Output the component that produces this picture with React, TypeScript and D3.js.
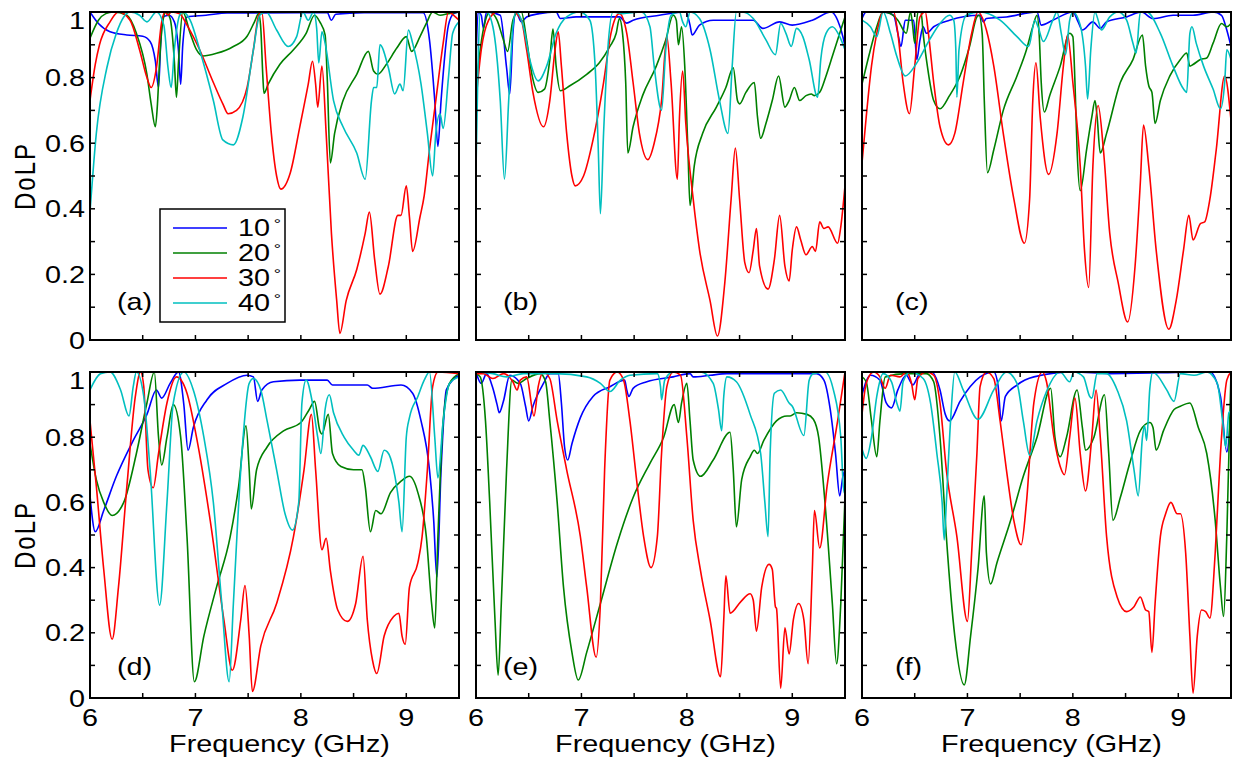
import React, { useEffect, useRef } from 'react'
import * as d3 from 'd3'

type Pt = [number, number]

// panel (a)
const a10: Pt[] = [[6.0,1.0],[6.08,0.965],[6.19,0.94],[6.35,0.93],[6.5,0.926],[6.57,0.91],[6.62,0.85],[6.65,0.77],[6.67,0.9],[6.69,0.985],[6.75,0.99],[6.8,0.97],[6.84,0.88],[6.86,0.78],[6.88,0.9],[6.92,0.985],[7.1,0.99],[7.3,0.997],[8.0,0.998],[8.25,0.998],[8.29,0.975],[8.33,0.993],[8.6,0.998],[9.16,0.998],[9.22,0.915],[9.27,0.73],[9.3,0.59],[9.33,0.73],[9.4,0.96],[9.45,0.995],[9.5,1.0]]
const a20: Pt[] = [[6.0,0.92],[6.08,0.975],[6.15,0.995],[6.22,1.0],[6.35,0.99],[6.44,0.935],[6.54,0.81],[6.58,0.72],[6.62,0.65],[6.64,0.72],[6.66,0.85],[6.69,0.97],[6.72,1.0],[6.76,0.98],[6.8,0.85],[6.82,0.74],[6.84,0.85],[6.88,1.0],[6.95,0.935],[7.01,0.885],[7.07,0.866],[7.2,0.874],[7.36,0.895],[7.49,0.926],[7.56,0.97],[7.6,0.995],[7.62,0.95],[7.64,0.8],[7.65,0.752],[7.69,0.78],[7.8,0.84],[7.93,0.885],[8.05,0.935],[8.13,0.99],[8.18,0.97],[8.23,0.93],[8.25,0.8],[8.28,0.54],[8.32,0.63],[8.4,0.73],[8.53,0.81],[8.64,0.88],[8.69,0.82],[8.73,0.81],[8.81,0.84],[8.91,0.89],[9.0,0.925],[9.05,0.88],[9.13,0.925],[9.19,0.965],[9.25,1.0],[9.32,0.99],[9.4,0.995],[9.5,1.0]]
const a30: Pt[] = [[6.0,0.73],[6.05,0.84],[6.09,0.9],[6.19,0.97],[6.27,1.0],[6.38,0.975],[6.47,0.885],[6.54,0.8],[6.58,0.77],[6.63,0.83],[6.68,0.97],[6.71,1.0],[6.74,0.99],[6.77,1.0],[6.85,0.995],[6.92,0.96],[7.04,0.885],[7.17,0.785],[7.26,0.72],[7.31,0.69],[7.39,0.7],[7.49,0.77],[7.55,0.885],[7.6,0.99],[7.63,1.0],[7.67,0.835],[7.72,0.63],[7.77,0.5],[7.81,0.46],[7.9,0.51],[7.99,0.65],[8.07,0.78],[8.11,0.85],[8.14,0.78],[8.16,0.71],[8.2,0.835],[8.24,0.63],[8.29,0.325],[8.34,0.12],[8.37,0.02],[8.43,0.12],[8.53,0.215],[8.61,0.325],[8.65,0.39],[8.7,0.245],[8.75,0.14],[8.83,0.225],[8.92,0.38],[8.95,0.38],[9.0,0.47],[9.03,0.375],[9.06,0.27],[9.13,0.375],[9.17,0.44],[9.22,0.58],[9.28,0.73],[9.35,0.905],[9.4,1.0],[9.45,0.99],[9.5,0.975]]
const a40: Pt[] = [[6.0,0.39],[6.06,0.63],[6.16,0.83],[6.25,0.935],[6.32,0.985],[6.38,1.0],[6.47,0.99],[6.54,0.97],[6.63,1.0],[6.7,0.96],[6.74,0.83],[6.77,0.77],[6.8,0.885],[6.85,0.99],[6.88,1.0],[6.95,0.975],[7.04,0.885],[7.17,0.73],[7.26,0.61],[7.36,0.595],[7.45,0.68],[7.55,0.885],[7.61,0.99],[7.67,1.0],[7.77,0.945],[7.88,0.895],[7.96,0.925],[8.02,1.0],[8.07,0.975],[8.12,1.0],[8.15,0.95],[8.17,0.845],[8.2,0.94],[8.23,0.905],[8.31,0.73],[8.4,0.65],[8.53,0.57],[8.61,0.49],[8.67,0.73],[8.69,0.77],[8.72,0.77],[8.75,0.9],[8.83,0.83],[8.89,0.75],[8.94,0.78],[8.97,0.76],[9.02,0.945],[9.06,0.905],[9.14,0.78],[9.2,0.63],[9.25,0.5],[9.28,0.63],[9.32,0.69],[9.35,0.645],[9.4,0.8],[9.44,0.935],[9.5,0.97]]

// panel (b)
const b10: Pt[] = [[6.0,0.85],[6.02,1.0],[6.05,0.99],[6.07,0.95],[6.1,1.0],[6.23,0.99],[6.29,0.83],[6.32,0.75],[6.35,0.935],[6.38,1.0],[6.43,0.97],[6.48,0.985],[6.6,0.995],[6.76,1.0],[6.8,0.98],[6.95,0.985],[7.36,0.985],[7.43,0.966],[7.49,0.975],[7.74,0.99],[7.99,1.0],[8.03,0.96],[8.05,0.93],[8.12,0.96],[8.25,0.975],[8.47,0.975],[8.63,0.975],[8.72,0.95],[8.88,0.97],[9.0,0.96],[9.19,0.975],[9.37,1.0],[9.43,0.975],[9.48,0.925],[9.5,0.895]]
const b20: Pt[] = [[6.0,0.76],[6.04,0.885],[6.09,0.975],[6.13,1.0],[6.2,0.975],[6.26,0.915],[6.3,0.88],[6.35,0.975],[6.4,1.0],[6.43,1.0],[6.48,0.915],[6.53,0.81],[6.59,0.755],[6.65,0.765],[6.7,0.855],[6.73,0.948],[6.76,0.835],[6.8,0.76],[6.89,0.775],[7.05,0.81],[7.17,0.845],[7.27,0.895],[7.33,0.935],[7.36,0.98],[7.39,0.935],[7.42,0.785],[7.44,0.57],[7.49,0.65],[7.58,0.745],[7.71,0.835],[7.8,0.915],[7.87,0.99],[7.9,0.975],[7.92,0.9],[7.95,0.955],[7.98,0.835],[8.01,0.58],[8.03,0.41],[8.07,0.53],[8.15,0.63],[8.28,0.71],[8.37,0.77],[8.44,0.83],[8.48,0.73],[8.5,0.72],[8.56,0.755],[8.64,0.785],[8.67,0.68],[8.7,0.615],[8.75,0.66],[8.81,0.73],[8.87,0.805],[8.93,0.71],[8.97,0.73],[9.02,0.77],[9.07,0.73],[9.13,0.745],[9.18,0.75],[9.21,0.745],[9.26,0.755],[9.32,0.805],[9.38,0.865],[9.45,0.935],[9.5,0.985]]
const b30: Pt[] = [[6.0,0.73],[6.05,0.885],[6.12,0.975],[6.2,1.0],[6.35,1.0],[6.43,0.975],[6.48,0.885],[6.54,0.755],[6.64,0.65],[6.7,0.73],[6.75,0.885],[6.78,0.94],[6.81,0.835],[6.86,0.63],[6.91,0.5],[6.94,0.47],[7.02,0.5],[7.11,0.61],[7.21,0.785],[7.28,0.935],[7.36,0.995],[7.43,0.935],[7.49,0.785],[7.55,0.63],[7.63,0.55],[7.69,0.6],[7.76,0.73],[7.81,0.925],[7.85,0.785],[7.91,0.49],[7.93,0.68],[7.96,0.82],[7.99,0.66],[8.06,0.43],[8.12,0.275],[8.22,0.12],[8.29,0.012],[8.36,0.175],[8.42,0.43],[8.46,0.585],[8.5,0.43],[8.55,0.235],[8.59,0.205],[8.63,0.275],[8.66,0.34],[8.69,0.225],[8.77,0.155],[8.83,0.245],[8.88,0.38],[8.93,0.225],[8.97,0.18],[9.0,0.275],[9.04,0.345],[9.08,0.305],[9.13,0.26],[9.19,0.285],[9.22,0.27],[9.26,0.36],[9.3,0.34],[9.34,0.345],[9.43,0.295],[9.46,0.345],[9.5,0.47]]
const b40: Pt[] = [[6.0,0.52],[6.02,0.85],[6.04,1.0],[6.1,1.0],[6.16,0.955],[6.23,0.73],[6.27,0.49],[6.31,0.73],[6.35,0.955],[6.38,1.0],[6.45,0.955],[6.51,0.855],[6.59,0.79],[6.67,0.835],[6.76,0.935],[6.86,0.985],[6.98,1.0],[7.08,0.975],[7.13,0.835],[7.16,0.58],[7.18,0.385],[7.21,0.63],[7.25,0.885],[7.3,1.0],[7.39,0.995],[7.57,1.0],[7.65,0.955],[7.69,0.835],[7.76,0.7],[7.8,0.885],[7.85,0.99],[7.93,1.0],[7.96,0.97],[7.99,0.955],[8.03,1.0],[8.12,0.98],[8.22,0.885],[8.31,0.73],[8.39,0.63],[8.43,0.835],[8.47,1.0],[8.53,1.0],[8.63,0.98],[8.75,0.915],[8.84,0.87],[8.89,0.965],[8.94,0.935],[8.99,0.895],[9.04,0.95],[9.1,0.925],[9.16,0.855],[9.24,0.74],[9.27,0.855],[9.32,0.935],[9.38,0.955],[9.45,0.925],[9.5,0.885]]

// panel (c)
const c10: Pt[] = [[6.0,0.98],[6.04,1.0],[6.2,1.0],[6.3,0.99],[6.34,0.935],[6.37,0.895],[6.41,0.975],[6.49,0.975],[6.52,0.855],[6.55,0.915],[6.58,0.955],[6.61,0.935],[6.68,0.955],[6.83,0.975],[7.12,0.99],[7.15,0.97],[7.18,0.98],[7.37,0.985],[7.66,1.0],[7.7,0.96],[7.81,0.975],[8.0,1.0],[8.05,0.97],[8.09,0.945],[8.19,0.97],[8.26,0.95],[8.32,0.97],[8.51,0.985],[8.65,1.0],[8.76,0.98],[8.95,0.99],[9.14,0.99],[9.33,1.0],[9.41,0.99],[9.46,0.945],[9.5,0.895]]
const c20: Pt[] = [[6.0,0.78],[6.08,0.885],[6.14,0.955],[6.2,1.0],[6.27,0.995],[6.34,0.975],[6.42,0.935],[6.46,1.0],[6.48,0.96],[6.5,0.905],[6.53,1.0],[6.56,1.0],[6.58,0.935],[6.62,0.835],[6.68,0.73],[6.74,0.705],[6.83,0.745],[6.93,0.805],[7.02,0.895],[7.09,0.985],[7.11,0.99],[7.14,0.935],[7.16,0.73],[7.19,0.51],[7.25,0.58],[7.34,0.7],[7.47,0.805],[7.56,0.885],[7.62,0.955],[7.66,0.99],[7.68,0.935],[7.7,0.785],[7.73,0.695],[7.78,0.745],[7.88,0.835],[7.97,0.935],[8.0,0.925],[8.02,0.785],[8.04,0.58],[8.07,0.455],[8.13,0.58],[8.18,0.68],[8.21,0.73],[8.23,0.68],[8.26,0.57],[8.32,0.63],[8.45,0.785],[8.57,0.855],[8.66,0.93],[8.69,0.835],[8.72,0.775],[8.75,0.755],[8.78,0.66],[8.83,0.73],[8.92,0.805],[9.02,0.855],[9.08,0.875],[9.11,0.835],[9.14,0.84],[9.21,0.855],[9.27,0.86],[9.33,0.905],[9.41,0.965],[9.46,0.955],[9.5,0.965]]
const c30: Pt[] = [[6.0,0.54],[6.04,0.68],[6.09,0.835],[6.14,0.935],[6.2,1.0],[6.3,1.0],[6.34,0.935],[6.39,0.785],[6.45,0.69],[6.5,0.835],[6.55,0.985],[6.6,1.0],[6.63,0.935],[6.68,0.785],[6.74,0.65],[6.82,0.595],[6.88,0.63],[6.96,0.785],[7.04,0.935],[7.1,1.0],[7.18,0.945],[7.25,0.835],[7.34,0.63],[7.44,0.43],[7.54,0.295],[7.59,0.43],[7.62,0.73],[7.65,0.845],[7.69,0.68],[7.77,0.505],[7.85,0.63],[7.91,0.835],[7.95,0.93],[8.0,0.785],[8.07,0.53],[8.11,0.275],[8.15,0.16],[8.19,0.53],[8.24,0.715],[8.29,0.58],[8.35,0.325],[8.43,0.175],[8.52,0.055],[8.59,0.225],[8.64,0.48],[8.67,0.655],[8.72,0.53],[8.79,0.275],[8.91,0.033],[8.98,0.12],[9.05,0.275],[9.1,0.38],[9.14,0.305],[9.21,0.355],[9.25,0.36],[9.3,0.43],[9.36,0.58],[9.44,0.805],[9.5,0.67]]
const c40: Pt[] = [[6.0,0.975],[6.08,0.955],[6.14,0.925],[6.2,1.0],[6.27,0.935],[6.33,0.865],[6.41,0.805],[6.52,0.845],[6.64,0.915],[6.74,0.965],[6.83,0.99],[6.87,0.975],[6.89,0.885],[6.9,0.74],[6.92,0.885],[6.99,0.99],[7.12,1.0],[7.31,0.975],[7.47,0.925],[7.58,0.895],[7.64,0.975],[7.67,0.955],[7.72,0.91],[7.81,0.975],[7.85,1.0],[7.89,0.935],[7.93,0.87],[7.97,0.975],[8.0,1.0],[8.07,0.96],[8.12,0.835],[8.14,0.735],[8.17,0.885],[8.21,1.0],[8.24,0.975],[8.27,0.945],[8.35,0.985],[8.43,1.0],[8.51,0.975],[8.57,0.905],[8.6,0.875],[8.64,1.0],[8.7,1.0],[8.83,0.935],[8.95,0.835],[9.05,0.765],[9.08,0.755],[9.11,0.935],[9.13,0.955],[9.17,0.905],[9.24,0.835],[9.33,0.765],[9.4,0.705],[9.44,0.785],[9.46,0.885],[9.5,0.855]]

// panel (d)
const d10: Pt[] = [[6.0,0.62],[6.05,0.51],[6.13,0.575],[6.25,0.68],[6.41,0.79],[6.54,0.87],[6.63,0.945],[6.68,0.92],[6.76,0.965],[6.84,1.0],[6.89,0.9],[6.93,0.76],[6.98,0.83],[7.11,0.915],[7.3,0.965],[7.49,0.99],[7.55,0.985],[7.59,0.91],[7.63,0.945],[7.74,0.97],[7.99,0.975],[8.25,0.975],[8.3,0.96],[8.63,0.96],[8.68,0.95],[8.95,0.96],[9.06,0.935],[9.14,0.85],[9.22,0.7],[9.26,0.545],[9.29,0.37],[9.33,0.7],[9.38,0.945],[9.5,0.99]]
const d20: Pt[] = [[6.0,0.78],[6.06,0.67],[6.13,0.6],[6.21,0.56],[6.32,0.6],[6.44,0.75],[6.54,0.905],[6.61,1.0],[6.65,0.8],[6.68,0.715],[6.73,0.8],[6.79,0.9],[6.86,0.8],[6.92,0.495],[6.99,0.05],[7.08,0.19],[7.2,0.34],[7.33,0.495],[7.41,0.65],[7.48,0.835],[7.51,0.7],[7.53,0.58],[7.58,0.7],[7.68,0.77],[7.84,0.82],[8.0,0.845],[8.08,0.885],[8.13,0.91],[8.18,0.82],[8.2,0.81],[8.26,0.87],[8.3,0.75],[8.38,0.71],[8.5,0.7],[8.58,0.7],[8.61,0.65],[8.66,0.51],[8.71,0.575],[8.76,0.565],[8.85,0.63],[8.95,0.665],[9.03,0.68],[9.11,0.63],[9.19,0.495],[9.24,0.29],[9.27,0.215],[9.3,0.495],[9.35,0.85],[9.41,0.965],[9.5,0.995]]
const d30: Pt[] = [[6.0,0.85],[6.06,0.65],[6.13,0.395],[6.21,0.18],[6.27,0.34],[6.35,0.65],[6.43,0.925],[6.48,1.0],[6.51,0.955],[6.55,0.7],[6.6,0.645],[6.65,0.75],[6.73,0.905],[6.82,0.985],[6.92,0.935],[7.01,0.8],[7.14,0.545],[7.27,0.24],[7.35,0.085],[7.43,0.24],[7.47,0.345],[7.51,0.19],[7.54,0.02],[7.62,0.16],[7.77,0.29],[7.93,0.495],[8.03,0.7],[8.1,0.87],[8.14,0.7],[8.2,0.455],[8.24,0.49],[8.28,0.39],[8.35,0.27],[8.44,0.235],[8.52,0.29],[8.59,0.435],[8.63,0.24],[8.68,0.115],[8.72,0.075],[8.79,0.19],[8.88,0.25],[8.93,0.26],[8.96,0.19],[8.99,0.165],[9.03,0.34],[9.11,0.415],[9.15,0.495],[9.2,0.7],[9.25,0.955],[9.3,1.0],[9.5,0.995]]
const d40: Pt[] = [[6.0,0.945],[6.1,0.995],[6.19,1.0],[6.29,0.945],[6.37,0.865],[6.41,0.955],[6.44,1.0],[6.51,0.925],[6.57,0.7],[6.66,0.285],[6.73,0.6],[6.79,0.905],[6.89,1.0],[6.98,0.945],[7.08,0.8],[7.17,0.6],[7.25,0.29],[7.32,0.05],[7.36,0.29],[7.43,0.7],[7.51,0.965],[7.55,0.98],[7.62,0.945],[7.68,0.85],[7.77,0.7],[7.85,0.565],[7.92,0.515],[7.98,0.6],[8.01,0.905],[8.05,0.975],[8.11,0.905],[8.16,0.8],[8.19,0.75],[8.23,0.885],[8.27,0.93],[8.31,0.875],[8.41,0.8],[8.5,0.76],[8.55,0.745],[8.59,0.775],[8.66,0.74],[8.73,0.695],[8.79,0.76],[8.82,0.755],[8.88,0.7],[8.93,0.6],[8.96,0.51],[9.0,0.8],[9.03,0.86],[9.11,0.925],[9.17,0.975],[9.22,1.0],[9.27,0.8],[9.3,0.675],[9.35,0.85],[9.41,0.965],[9.5,0.985]]

// panel (e)
const e10: Pt[] = [[6.0,1.0],[6.05,0.965],[6.1,0.995],[6.16,0.95],[6.2,0.9],[6.22,0.875],[6.26,0.91],[6.32,0.99],[6.42,0.965],[6.47,0.895],[6.5,0.85],[6.54,0.895],[6.64,0.965],[6.7,0.995],[6.78,0.995],[6.81,0.905],[6.84,0.77],[6.87,0.73],[6.91,0.78],[6.99,0.86],[7.11,0.925],[7.27,0.955],[7.41,0.975],[7.43,0.945],[7.45,0.925],[7.49,0.95],[7.62,0.97],[7.87,0.985],[8.03,0.995],[8.06,0.985],[8.22,0.99],[8.38,0.995],[9.23,0.995],[9.3,0.975],[9.36,0.885],[9.41,0.75],[9.45,0.62],[9.48,0.68],[9.5,0.7]]
const e20: Pt[] = [[6.0,0.995],[6.04,0.985],[6.09,0.85],[6.13,0.6],[6.18,0.24],[6.21,0.07],[6.24,0.29],[6.29,0.7],[6.34,0.975],[6.4,0.965],[6.48,0.98],[6.61,0.995],[6.66,0.97],[6.7,0.85],[6.77,0.6],[6.83,0.34],[6.91,0.14],[6.97,0.055],[7.05,0.14],[7.18,0.29],[7.34,0.475],[7.49,0.615],[7.65,0.72],[7.78,0.8],[7.88,0.9],[7.92,0.845],[7.95,0.905],[8.0,0.965],[8.03,0.85],[8.06,0.73],[8.13,0.68],[8.25,0.73],[8.41,0.815],[8.44,0.7],[8.47,0.525],[8.52,0.67],[8.6,0.74],[8.64,0.76],[8.67,0.75],[8.73,0.79],[8.85,0.85],[8.95,0.865],[8.98,0.865],[9.04,0.875],[9.14,0.87],[9.2,0.855],[9.25,0.8],[9.31,0.6],[9.38,0.29],[9.42,0.105],[9.46,0.29],[9.5,0.615]]
const e30: Pt[] = [[6.0,0.995],[6.07,0.995],[6.16,0.98],[6.26,0.995],[6.35,0.97],[6.39,0.945],[6.42,0.975],[6.48,0.985],[6.55,0.865],[6.59,0.955],[6.64,1.0],[6.7,0.98],[6.77,0.85],[6.86,0.7],[6.99,0.495],[7.05,0.34],[7.14,0.125],[7.18,0.29],[7.22,0.7],[7.27,0.975],[7.34,1.0],[7.4,0.975],[7.46,0.85],[7.53,0.65],[7.59,0.495],[7.66,0.4],[7.72,0.495],[7.76,0.75],[7.81,0.955],[7.87,1.0],[7.94,0.99],[8.0,0.8],[8.06,0.545],[8.13,0.39],[8.22,0.24],[8.32,0.065],[8.35,0.24],[8.37,0.375],[8.41,0.26],[8.51,0.295],[8.6,0.32],[8.63,0.3],[8.66,0.205],[8.71,0.34],[8.78,0.41],[8.81,0.395],[8.84,0.28],[8.85,0.275],[8.89,0.03],[8.93,0.215],[8.97,0.135],[9.01,0.24],[9.06,0.29],[9.11,0.24],[9.15,0.105],[9.19,0.395],[9.21,0.575],[9.26,0.46],[9.33,0.65],[9.43,0.85],[9.5,1.0]]
const e40: Pt[] = [[6.0,1.0],[6.16,0.995],[6.29,0.985],[6.45,0.995],[6.75,0.995],[7.05,0.985],[7.18,0.965],[7.27,0.94],[7.37,0.975],[7.46,0.99],[7.72,0.995],[7.75,0.955],[7.76,0.915],[7.79,0.975],[7.87,1.0],[8.13,1.0],[8.25,0.965],[8.3,0.885],[8.33,0.82],[8.35,0.925],[8.38,0.985],[8.47,0.97],[8.6,0.87],[8.7,0.75],[8.74,0.6],[8.77,0.495],[8.79,0.75],[8.83,0.935],[8.89,0.945],[8.97,0.905],[9.0,0.895],[9.11,0.805],[9.16,0.975],[9.2,0.995],[9.31,1.0],[9.39,0.945],[9.46,0.8],[9.49,0.63],[9.5,0.63]]

// panel (f)
const f10: Pt[] = [[6.0,0.93],[6.08,0.99],[6.17,0.975],[6.23,0.905],[6.28,0.89],[6.34,0.945],[6.42,0.99],[6.46,0.97],[6.48,0.96],[6.55,0.995],[6.66,1.0],[6.74,0.945],[6.79,0.87],[6.83,0.85],[6.93,0.91],[7.12,0.985],[7.25,1.0],[7.29,0.96],[7.32,0.85],[7.36,0.925],[7.47,0.96],[7.63,0.985],[8.01,1.0],[8.35,0.995],[9.3,1.0],[9.4,0.925],[9.46,0.755],[9.5,0.88]]
const f20: Pt[] = [[6.0,0.985],[6.04,0.97],[6.09,0.85],[6.14,0.74],[6.17,0.85],[6.22,0.985],[6.42,0.995],[6.61,0.995],[6.68,0.97],[6.74,0.8],[6.8,0.495],[6.88,0.19],[6.97,0.04],[7.03,0.19],[7.1,0.395],[7.16,0.62],[7.18,0.445],[7.22,0.35],[7.28,0.415],[7.41,0.545],[7.53,0.68],[7.66,0.8],[7.79,0.95],[7.83,0.8],[7.88,0.74],[7.94,0.8],[8.04,0.945],[8.09,0.83],[8.12,0.76],[8.2,0.8],[8.3,0.93],[8.34,0.75],[8.38,0.545],[8.45,0.615],[8.54,0.72],[8.64,0.82],[8.73,0.845],[8.76,0.83],[8.79,0.76],[8.86,0.82],[8.96,0.885],[9.02,0.895],[9.11,0.905],[9.19,0.83],[9.27,0.75],[9.35,0.545],[9.4,0.34],[9.43,0.25],[9.46,0.495],[9.5,1.0]]
const f30: Pt[] = [[6.0,0.87],[6.04,0.965],[6.11,1.0],[6.17,0.985],[6.22,0.95],[6.27,0.99],[6.36,0.985],[6.42,1.0],[6.47,0.965],[6.5,0.915],[6.53,0.98],[6.61,1.0],[6.68,0.99],[6.74,0.905],[6.8,0.7],[6.9,0.495],[7.0,0.235],[7.04,0.445],[7.09,0.75],[7.12,0.955],[7.18,1.0],[7.25,0.98],[7.31,0.85],[7.37,0.7],[7.44,0.545],[7.51,0.47],[7.56,0.6],[7.63,0.905],[7.71,1.0],[7.75,0.97],[7.82,0.8],[7.88,0.71],[7.92,0.685],[7.97,0.8],[8.02,0.92],[8.07,0.75],[8.12,0.635],[8.18,0.8],[8.22,0.945],[8.26,0.8],[8.32,0.495],[8.42,0.31],[8.51,0.265],[8.58,0.28],[8.64,0.31],[8.69,0.27],[8.72,0.265],[8.75,0.14],[8.78,0.29],[8.83,0.495],[8.88,0.565],[8.93,0.6],[8.99,0.565],[9.02,0.565],[9.07,0.445],[9.11,0.19],[9.14,0.015],[9.18,0.19],[9.22,0.27],[9.26,0.265],[9.3,0.245],[9.35,0.445],[9.4,0.75],[9.46,0.975],[9.5,1.0]]
const f40: Pt[] = [[6.0,0.765],[6.04,0.735],[6.09,0.8],[6.14,0.925],[6.2,0.995],[6.28,0.97],[6.33,0.905],[6.36,0.88],[6.39,0.97],[6.46,1.0],[6.58,0.98],[6.65,0.905],[6.71,0.75],[6.76,0.6],[6.78,0.485],[6.8,0.6],[6.84,0.85],[6.88,1.0],[6.96,0.945],[7.1,0.855],[7.25,0.945],[7.37,1.0],[7.47,0.965],[7.53,0.85],[7.59,0.745],[7.66,0.85],[7.75,0.94],[7.88,1.0],[7.97,0.97],[8.01,1.0],[8.1,0.985],[8.16,0.925],[8.18,0.92],[8.23,0.995],[8.32,0.995],[8.42,0.945],[8.51,0.85],[8.58,0.7],[8.62,0.62],[8.66,0.8],[8.68,0.835],[8.7,0.79],[8.73,0.95],[8.76,1.0],[8.8,0.99],[8.89,0.945],[8.96,0.91],[9.02,0.995],[9.15,0.99],[9.27,1.0],[9.37,0.965],[9.42,0.85],[9.45,0.77],[9.48,0.875],[9.5,0.88]]

const panelNames = ['(a)', '(b)', '(c)', '(d)', '(e)', '(f)']
const angleLabels = ['10', '20', '30', '40']
const lineColors = ['#0000ff', '#008000', '#ff0000', '#00bfbf']
const yTickLabels = [0, 0.2, 0.4, 0.6, 0.8, 1]
const xTickLabels = [6, 7, 8, 9]

const panelSeries: Pt[][][] = [
     [a10, a20, a30, a40],
     [b10, b20, b30, b40],
     [c10, c20, c30, c40],
     [d10, d20, d30, d40],
     [e10, e20, e30, e40],
     [f10, f20, f30, f40],
]

const App = () => {
     const svgRef = useRef<SVGSVGElement>(null)

     useEffect(() => {
          const svg = d3.select(svgRef.current)
          svg.selectAll('*').remove()

          const font = '"Liberation Sans", Arial, Helvetica, sans-serif'
          const stretch = 1.2
          const colLeft = [90, 476, 862]
          const colLabelDx = [27, 27, 33]
          const rowTop = [12, 372]
          const rowHeight = [328, 326]
          const rowLabelUp = [30, 23]
          const panelW = 369
          const tickLen = 5

          const addText = (x: number, y: number, str: string, anchor: string, rotate = 0) =>
               svg.append('text')
                    .attr('transform', `translate(${x},${y}) scale(${stretch},1)${rotate ? ` rotate(${rotate})` : ''}`)
                    .attr('text-anchor', anchor)
                    .style('font-family', font)
                    .style('font-size', '24px')
                    .style('fill', '#000')
                    .text(str)

          panelSeries.forEach((series, i) => {
               const row = Math.floor(i / 3)
               const col = i % 3
               const left = colLeft[col]
               const top = rowTop[row]
               const h = rowHeight[row]

               const xScale = d3.scaleLinear().domain([6, 9.5]).range([left, left + panelW])
               const yScale = d3.scaleLinear().domain([0, 1]).range([top + h, top])

               const clipId = `clip-${i}`
               svg.append('clipPath')
                    .attr('id', clipId)
                    .append('rect')
                    .attr('x', left)
                    .attr('y', top)
                    .attr('width', panelW)
                    .attr('height', h)

               const line = d3
                    .line<Pt>()
                    .x((d) => xScale(d[0]))
                    .y((d) => yScale(d[1]))
                    .curve(d3.curveMonotoneX)

               const g = svg.append('g').attr('clip-path', `url(#${clipId})`)
               series.forEach((s, k) => {
                    g.append('path')
                         .attr('d', line(s))
                         .attr('fill', 'none')
                         .attr('stroke', lineColors[k])
                         .attr('stroke-width', 1.6)
                         .attr('stroke-linejoin', 'round')
               })

               // ticks, pointing inwards on all four sides
               const ticks = svg.append('g').attr('stroke', '#000').attr('stroke-width', 1.5)
               d3.range(6.5, 9.49, 0.5).forEach((f) => {
                    ticks.append('line')
                         .attr('x1', xScale(f)).attr('x2', xScale(f))
                         .attr('y1', top + h).attr('y2', top + h - tickLen)
                    ticks.append('line')
                         .attr('x1', xScale(f)).attr('x2', xScale(f))
                         .attr('y1', top).attr('y2', top + tickLen)
               })
               d3.range(0.1, 0.95, 0.1).forEach((v) => {
                    ticks.append('line')
                         .attr('x1', left).attr('x2', left + tickLen)
                         .attr('y1', yScale(v)).attr('y2', yScale(v))
                    ticks.append('line')
                         .attr('x1', left + panelW).attr('x2', left + panelW - tickLen)
                         .attr('y1', yScale(v)).attr('y2', yScale(v))
               })

               svg.append('rect')
                    .attr('x', left)
                    .attr('y', top)
                    .attr('width', panelW)
                    .attr('height', h)
                    .attr('fill', 'none')
                    .attr('stroke', '#000')
                    .attr('stroke-width', 2)

               addText(left + colLabelDx[col], top + h - rowLabelUp[row], panelNames[i], 'start')

               if (col === 0) {
                    yTickLabels.forEach((v) => {
                         const shift = v === 1 ? 8 : 0
                         addText(left - 5, yScale(v) + 8.5 + shift, String(v), 'end')
                    })
                    addText(left - 55, top + h / 2, 'DoLP', 'middle', -90)
                         .style('letter-spacing', '2px')
               }

               if (row === 1) {
                    xTickLabels.forEach((f) => {
                         addText(xScale(f), 726, String(f), 'middle')
                    })
                    addText(left + panelW / 2 + 5, 752, 'Frequency (GHz)', 'middle')
               }
          })

          // legend in panel (a)
          const legend = svg.append('g')
          legend.append('rect')
               .attr('x', 160)
               .attr('y', 209)
               .attr('width', 125)
               .attr('height', 113)
               .attr('fill', '#fff')
               .attr('stroke', '#000')
               .attr('stroke-width', 1.5)
          angleLabels.forEach((lab, k) => {
               const ly = 228 + k * 25
               legend.append('line')
                    .attr('x1', 173).attr('x2', 227)
                    .attr('y1', ly).attr('y2', ly)
                    .attr('stroke', lineColors[k])
                    .attr('stroke-width', 1.6)
               const t = legend.append('text')
                    .attr('transform', `translate(238,${ly + 8}) scale(${stretch},1)`)
                    .style('font-family', font)
                    .style('font-size', '24px')
                    .text(lab)
               t.append('tspan')
                    .attr('dx', 3)
                    .attr('dy', -7)
                    .style('font-size', '15px')
                    .text('°')
          })
     }, [])

     return (
          <svg
               ref={svgRef}
               width={1238}
               height={763}
               style={{ position: 'absolute', left: 0, top: 0, background: '#fff' }}
          ></svg>
     )
}

export default App
